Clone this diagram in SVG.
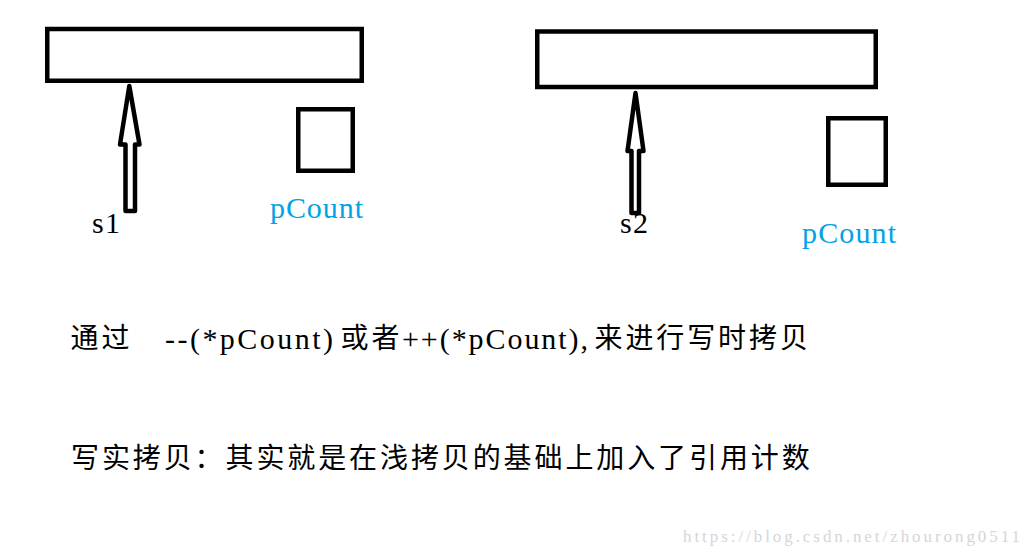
<svg xmlns="http://www.w3.org/2000/svg" width="1034" height="558" viewBox="0 0 1034 558">
<style>
.box{fill:#fff;stroke:#000;stroke-width:4.5}
.arrow{fill:#fff;stroke:#000;stroke-width:4.5;stroke-linejoin:round}
.lat{font-family:"Liberation Serif","DejaVu Serif",serif;fill:#000;font-size:30px}
.blue{font-family:"Liberation Serif","DejaVu Serif",serif;fill:#00A2E8;font-size:30px}
.cjk{font-family:"Noto Sans CJK SC","Noto Sans CJK JP",sans-serif;font-size:28px;letter-spacing:2.9px;fill:#000}
.wm{font-family:"Liberation Serif","DejaVu Serif",serif;font-size:17px;fill:#d6d6d6}
</style>
<rect width="1034" height="558" fill="#fff"/>
<g id="block1"><rect class="box" x="47.25" y="29" width="314.5" height="51.75"/></g>
<g id="count1"><rect class="box" x="298.25" y="109.25" width="54.5" height="61.5"/><text class="blue" x="270" y="218" textLength="93" lengthAdjust="spacing">pCount</text></g>
<g id="block2"><rect class="box" x="537.25" y="31.5" width="338.5" height="55.5"/></g>
<g id="count2"><rect class="box" x="828.25" y="118.25" width="57.5" height="66.5"/><text class="blue" x="802" y="243" textLength="94" lengthAdjust="spacing">pCount</text></g>
<g id="connectors">
<polygon class="arrow" points="129.3,86 120,144.5 125.5,144.5 125.5,211 135,211 135,144.5 139.5,144.5"/>
<polygon class="arrow" points="635.5,93 627.5,151 631.5,151 631.5,213 639,213 639,151 643.5,151"/>
</g>
<g id="s1"><text class="lat" x="92" y="233" font-size="27" textLength="28" lengthAdjust="spacing">s1</text></g>
<g id="s2"><text class="lat" x="620" y="233" font-size="27" textLength="28" lengthAdjust="spacing">s2</text></g>
<g id="line1">
<text class="cjk" x="70.5" y="348">通过</text>
<text class="lat" x="165" y="349" textLength="168" lengthAdjust="spacing">--(*pCount)</text>
<text class="cjk" x="340.5" y="348">或者</text>
<text class="lat" x="402" y="349" textLength="186" lengthAdjust="spacing">++(*pCount),</text>
<text class="cjk" x="594.5" y="348">来进行写时拷贝</text>
</g>
<g id="line2"><text class="cjk" x="71" y="468">写实拷贝：其实就是在浅拷贝的基础上加入了引用计数</text></g>
<text class="wm" x="683" y="542" textLength="337" lengthAdjust="spacing">https://blog.csdn.net/zhourong0511</text>
</svg>
